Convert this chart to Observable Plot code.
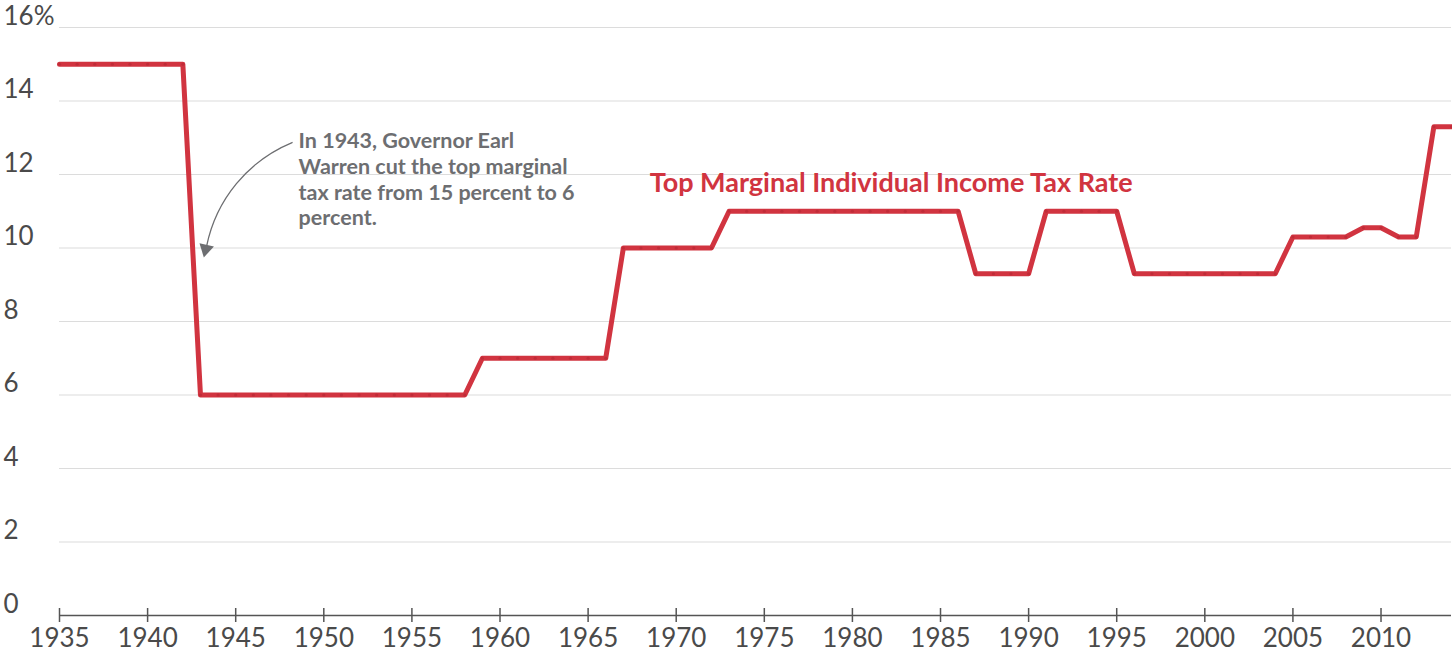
<!DOCTYPE html>
<html>
<head>
<meta charset="utf-8">
<script src="https://cdn.jsdelivr.net/npm/d3@7"></script>
<script src="https://cdn.jsdelivr.net/npm/@observablehq/plot@0.6"></script>
<style>
  html, body { margin: 0; padding: 0; background: #fff; }
  #chart svg { display: block; }
</style>
</head>
<body>
<div id="chart"></div>
<script>
const years = d3.range(1935, 2015);
const rates = [
  15, 15, 15, 15, 15, 15, 15, 15,            // 1935-1942
  6, 6, 6, 6, 6, 6, 6, 6, 6, 6, 6, 6, 6, 6, 6, 6, // 1943-1958
  7, 7, 7, 7, 7, 7, 7, 7,                    // 1959-1966
  10, 10, 10, 10, 10, 10,                    // 1967-1972
  11, 11, 11, 11, 11, 11, 11, 11, 11, 11, 11, 11, 11, 11, // 1973-1986
  9.3, 9.3, 9.3, 9.3,                        // 1987-1990
  11, 11, 11, 11, 11,                        // 1991-1995
  9.3, 9.3, 9.3, 9.3, 9.3, 9.3, 9.3, 9.3, 9.3, // 1996-2004
  10.3, 10.3, 10.3, 10.3,                    // 2005-2008
  10.55, 10.55,                              // 2009-2010
  10.3, 10.3,                                // 2011-2012
  13.3, 13.3                                 // 2013-2014
];
const yTicks = [0, 2, 4, 6, 8, 10, 12, 14, 16];
const xTicks = d3.range(1935, 2015, 5);
const seriesLabel = "Top Marginal Individual Income Tax Rate";
const noteText = "In 1943, Governor Earl\nWarren cut the top marginal\ntax rate from 15 percent to 6\npercent.";

const data = years.map((y, i) => ({year: y, rate: rates[i]}));
const red = "#d13440";
const grey = "#6d6e71";
const font = "Lato, 'Noto Sans', sans-serif";

const chart = Plot.plot({
  width: 1452,
  height: 652,
  marginLeft: 59,
  marginRight: 1,
  marginTop: 27,
  marginBottom: 37,
  style: {fontFamily: font, background: "#fff"},
  x: {domain: [1935, 2014], label: null},
  y: {domain: [0, 16], label: null},
  marks: [
    Plot.gridY(yTicks.filter(d => d > 0), {stroke: "#dcdcdc", strokeOpacity: 1, strokeWidth: 1.2}),
    Plot.axisY(yTicks, {
      anchor: "left", tickSize: 0, tickPadding: 0, textAnchor: "start", lineAnchor: "bottom", dx: -56, dy: -3,
      fontSize: 26, fill: "#4a4a4a", label: null,
      tickFormat: d => d === 16 ? "16%" : String(d)
    }),
    Plot.ruleY([0], {stroke: "#555", strokeWidth: 1.5}),
    Plot.axisX(xTicks, {
      anchor: "bottom", tickSize: 14, dy: -7, stroke: "#555", strokeWidth: 1.5,
      tickFormat: () => "", label: null
    }),
    Plot.axisX(xTicks, {
      anchor: "bottom", tickSize: 0, tickPadding: 13, fontSize: 26, fill: "#4a4a4a",
      tickFormat: d => String(d), label: null
    }),
    Plot.line(data, {x: "year", y: "rate", stroke: red, strokeWidth: 5, strokeLinejoin: "round", strokeLinecap: "round"}),
    Plot.dot(data, {x: "year", y: "rate", r: 1.6, fill: "#c02c38", stroke: null}),
    Plot.text([seriesLabel], {
      x: 1982.2, y: 11.76, text: d => d, fill: red, fontSize: 27, fontWeight: "bold", textAnchor: "middle"
    }),
    Plot.text([noteText], {
      x: 1948.57, y: 13.22, text: d => d, fill: grey, fontSize: 21.5, fontWeight: "bold",
      textAnchor: "start", lineAnchor: "top", lineHeight: 1.2
    }),
    Plot.arrow([{x1: 1948.2, y1: 12.87, x2: 1943.35, y2: 10.05}], {
      x1: "x1", y1: "y1", x2: "x2", y2: "y2", bend: -28, stroke: grey, strokeWidth: 1.3,
      headLength: 0
    }),
    Plot.dot([{x: 1943.3, y: 9.97}], {
      x: "x", y: "y", symbol: "triangle", r: 5.5, fill: grey, stroke: null, rotate: 193
    })
  ]
});
document.getElementById("chart").append(chart);
</script>
</body>
</html>
